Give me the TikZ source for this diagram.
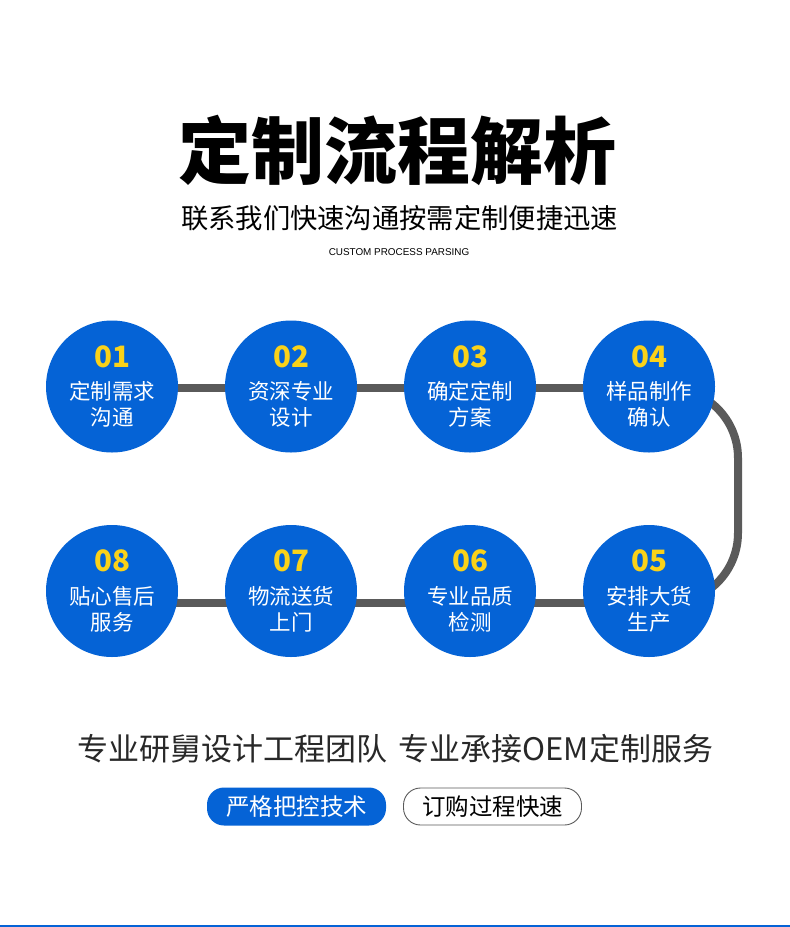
\documentclass[tikz,border=0pt]{standalone}
\usepackage{fontspec}
\newfontfamily\cjk{Noto Sans CJK SC}
\newfontfamily\latinsans{Liberation Sans}
\pgfdeclarelayer{back}
\pgfdeclarelayer{bg}
\pgfsetlayers{back,bg,main}
\definecolor{mainblue}{RGB}{5,99,214}
\definecolor{numyellow}{RGB}{250,210,25}
\definecolor{linegray}{RGB}{90,90,90}
\definecolor{textdark}{RGB}{40,40,40}
\tikzset{
  stepcircle/.style={circle, fill=mainblue, minimum size=132pt, inner sep=0pt},
  numtext/.style={text=numyellow, font=\cjk\bfseries\fontsize{29.5}{29.5}\selectfont},
  steptext/.style={text=white, font=\cjk\fontsize{21.5}{26}\selectfont, align=center},
  conn/.style={draw=linegray, line width=8pt},
  bluebtn/.style={fill=mainblue, rounded corners=17pt, minimum width=179pt, minimum height=38pt, text=white, font=\cjk\fontsize{23.5}{24}\selectfont, inner sep=0pt},
  whitebtn/.style={draw=linegray, line width=0.9pt, rounded corners=17pt, minimum width=178pt, minimum height=37pt, text=black, font=\cjk\fontsize{23.5}{24}\selectfont, inner sep=0pt},
}
\begin{document}
\begin{tikzpicture}[x=1pt, y=-1pt]
\begin{pgfonlayer}{back}
  \fill[white] (0,0) rectangle (790,927);
\end{pgfonlayer}
\useasboundingbox (0,0) rectangle (790,927);
% title
\node (title) at (397,150) {\cjk\bfseries\fontsize{73}{73}\selectfont 定制流程解析};
\node (sub) at (399.5,218) {\cjk\fontsize{27.3}{28}\selectfont 联系我们快速沟通按需定制便捷迅速};
\node (eng) at (399,252) {\latinsans\fontsize{9.9}{10}\selectfont CUSTOM PROCESS PARSING};
% circles
\foreach \i/\x/\y/\n/\a/\b in {
  1/112/386.5/01/定制需求/沟通,
  2/291/386.5/02/资深专业/设计,
  3/470/386.5/03/确定定制/方案,
  4/649/386.5/04/样品制作/确认,
  5/649/591/05/安排大货/生产,
  6/470/591/06/专业品质/检测,
  7/291/591/07/物流送货/上门,
  8/112/591/08/贴心售后/服务}{
  \node[stepcircle] (c\i) at (\x,\y) {};
  \node[numtext] (n\i) at ([yshift=30pt]c\i.center) {\n};
  \node[steptext] (t\i) at ([yshift=-18pt]c\i.center) {\a\\\b};
}
\begin{pgfonlayer}{bg}
  \coordinate (rb) at (738,603);
  \draw[conn] ([yshift=-1.5pt]c1.center) -- ([yshift=-1.5pt]c2.center) -- ([yshift=-1.5pt]c3.center) -- ([yshift=-1.5pt]c4.center);
  \draw[conn, rounded corners=70pt] ([yshift=-1.5pt]c4.center) -| (rb) -- ([yshift=-12pt]c5.center);
  \draw[conn] ([yshift=-12pt]c5.center) -- ([yshift=-12pt]c6.center) -- ([yshift=-12pt]c7.center) -- ([yshift=-12pt]c8.center);
\end{pgfonlayer}
% bottom text
\node[text=textdark] (slogan) at (395.5,749) {\cjk\fontsize{31}{31}\selectfont 专业研舅设计工程团队\hspace{0.35em}专业承接OEM定制服务};
\node[bluebtn] (b1) at (296.5,806.5) {严格把控技术};
\node[whitebtn] (b2) at (492.5,806.5) {订购过程快速};
% bottom line
\fill[mainblue] (0,925) rectangle (790,927);
\end{tikzpicture}
\end{document}
